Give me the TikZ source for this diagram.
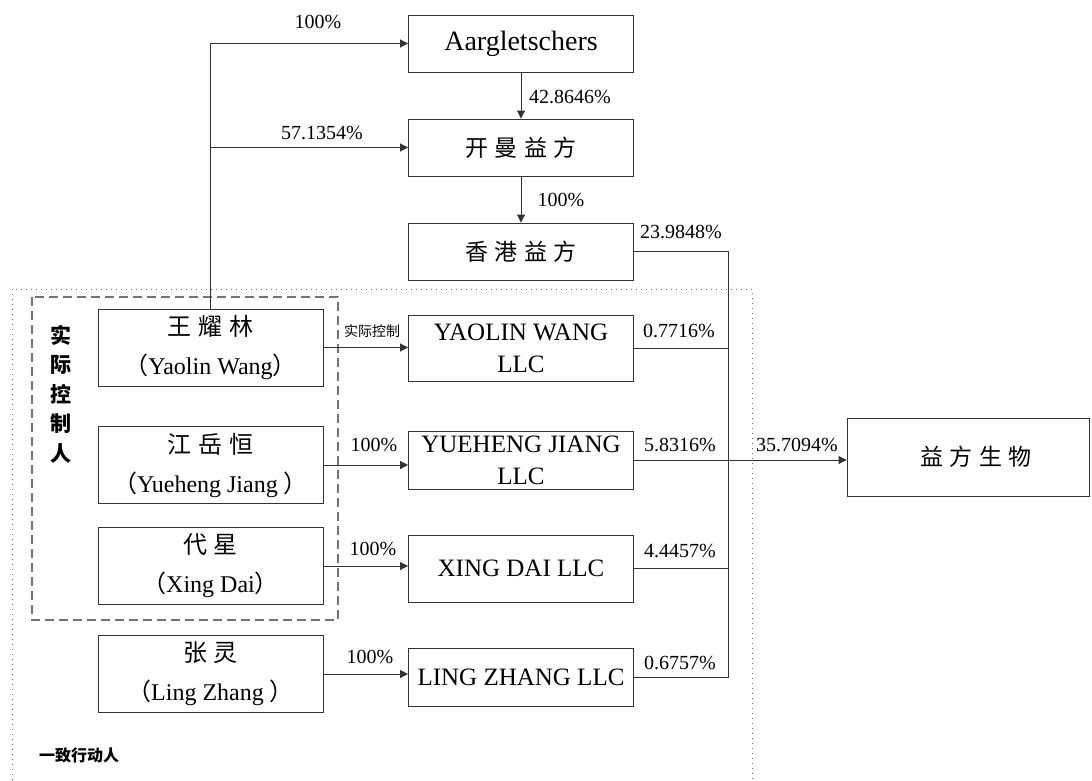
\documentclass[tikz,border=0pt]{standalone}
\usepackage{fontspec}
\setmainfont{Liberation Serif}
\newfontfamily\cjk[LetterSpace=28]{Noto Sans CJK SC}
\newfontfamily\cjkp{Noto Sans CJK SC}
\usetikzlibrary{arrows,arrows.meta}

\tikzset{
  line/.style={draw=black!80, line width=0.9pt},
  box/.style={line, minimum width=225, minimum height=57, inner sep=0, align=center, font=\fontsize{25}{32}\selectfont},
  person/.style={box, minimum height=77, font=\fontsize{24}{39}\selectfont},
  pct/.style={inner sep=0, font=\fontsize{20}{22}\selectfont},
}

\begin{document}
\begin{tikzpicture}[x=1pt, y=-1pt, >={Triangle[length=8pt,width=8pt]}]
\useasboundingbox (0,0) rectangle (1092,780);
% groups
\draw[black!60, line width=1pt, dash pattern=on 1pt off 4pt] (12,780) |- (752,289) -- (752,780);
\draw[black!55, line width=1.5pt, dash pattern=on 9pt off 5pt] (32,297) rectangle (338,620);
\node[inner sep=0, align=center, font=\fontsize{21}{29.5}\selectfont\cjkp\bfseries] (ctrl) at (61,394) {实\\际\\控\\制\\人};
\node[inner sep=0, font=\fontsize{16}{20}\selectfont\cjkp\bfseries] (concert) at (79,755) {一致行动人};

% holding chain
\node[box, font=\fontsize{28}{32}\selectfont] (aarg) at (521,43.5) {Aargletschers};
\node[box, font=\fontsize{23}{30}\selectfont\cjk] (kaiman) at (521,147.5) {开曼益方};
\node[box, font=\fontsize{23}{30}\selectfont\cjk] (hk) at (521,251.5) {香港益方};

% persons
\node[person] (wang) at (210.5,347.5) {{\cjk 王耀林}\\{\cjkp （}Yaolin Wang{\cjkp ）}};
\node[person] (jiang) at (210.5,465) {{\cjk 江岳恒}\\{\cjkp （}Yueheng Jiang {\cjkp ）}};
\node[person] (dai) at (210.5,566) {{\cjk 代星}\\{\cjkp （}Xing Dai{\cjkp ）}};
\node[person] (zhang) at (210.5,674) {{\cjk 张灵}\\{\cjkp （}Ling Zhang {\cjkp ）}};

% LLCs
\node[box, minimum height=66] (wangllc) at (521,348) {YAOLIN WANG\\LLC};
\node[box, minimum height=58] (jiangllc) at (521,460) {YUEHENG JIANG\\LLC};
\node[box, minimum height=67] (daillc) at (521,568.5) {XING DAI LLC};
\node[box, minimum height=58] (zhangllc) at (521,677) {LING ZHANG LLC};

\node[box, minimum width=242, minimum height=78, font=\fontsize{23}{30}\selectfont\cjk] (yifang) at (968,457) {\hspace*{16pt}益方生物};

% connectors
\draw[line,->] (wang.north) |- (aarg.west);
\draw[line,->] (wang.north |- kaiman.west) -- (kaiman.west);
\draw[line,->] (aarg.south) -- (kaiman.north);
\draw[line,->] (kaiman.south) -- (hk.north);
\foreach \p/\c in {wang/wangllc, jiang/jiangllc, dai/daillc, zhang/zhangllc} {
 \draw[line,->] (\p.east) -- (\p.east -| \c.west);
}
\coordinate (bus) at (728,251.5);
\draw[line] (hk.east) -- (bus) -- (bus |- zhangllc.east) -- (zhangllc.east);
\foreach \c in {wangllc, daillc} {
 \draw[line] (\c.east) -- (\c.east -| bus);
}
\draw[line,->] (jiangllc.east) -- (jiangllc.east -| yifang.west);

% shares
\node[pct] (p1) at (318,22) {100\%};
\node[pct] (p2) at (322,133) {57.1354\%};
\node[pct] (p3) at (570,97) {42.8646\%};
\node[pct] (p4) at (561,200) {100\%};
\node[pct] (p5) at (681,232) {23.9848\%};
\node[pct, font=\fontsize{14}{16}\selectfont\cjkp] (p6) at (372,331) {实际控制};
\node[pct] (p7) at (679,331) {0.7716\%};
\node[pct] (p8) at (374,445) {100\%};
\node[pct] (p9) at (680,445) {5.8316\%};
\node[pct] (p10) at (797,445) {35.7094\%};
\node[pct] (p11) at (373,549) {100\%};
\node[pct] (p12) at (680,551) {4.4457\%};
\node[pct] (p13) at (370,657) {100\%};
\node[pct] (p14) at (680,663) {0.6757\%};
\end{tikzpicture}
\end{document}
